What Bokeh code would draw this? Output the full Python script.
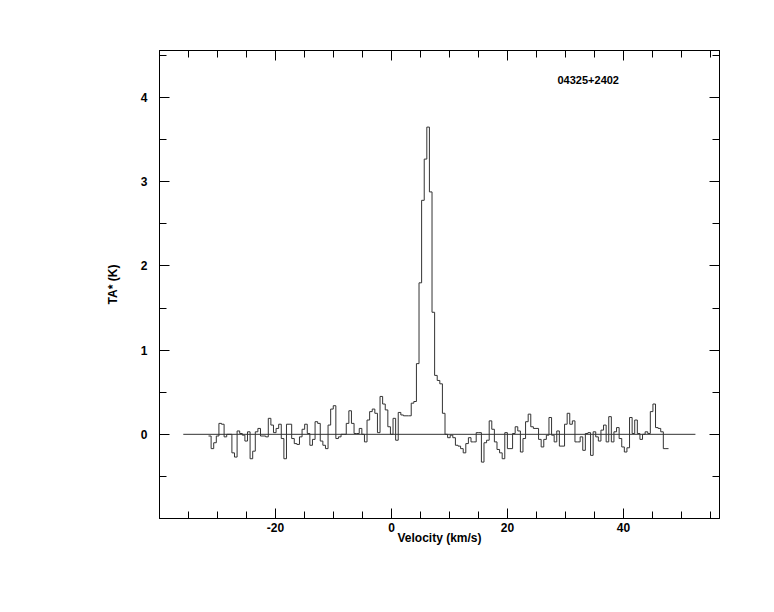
import numpy as np
from bokeh.plotting import figure
from bokeh.models import FixedTicker, LinearAxis, Label, Range1d
from bokeh.embed import file_html
from bokeh.resources import INLINE

# ---- data ----
v_start = -31.55          # velocity of first channel's left edge (km/s)
v_end = 47.76             # velocity of last channel's right edge (km/s)

ta_part1 = [-0.02, -0.17, -0.10, -0.02, 0.13, 0.12, -0.03, 0.0, 0.0, -0.22,
            -0.27, 0.04, 0.01, -0.01, -0.08, 0.03, -0.29, -0.20, 0.03, 0.07,
            -0.02, -0.02, -0.03, 0.19, 0.11, 0.02, 0.07, 0.12, -0.05, -0.29,
            0.12, 0.12, -0.05, -0.11]
ta_part2 = [-0.12, -0.03, 0.06, 0.12, 0.01, -0.13, -0.06, 0.15, 0.13, -0.08,
            -0.13, -0.17, 0.11, 0.30, 0.34, -0.05, -0.03, 0.0, 0.0, 0.13,
            0.28, 0.13, 0.01, 0.01, 0.07, 0.0, -0.09, 0.17, 0.27, 0.30,
            0.25, 0.02, 0.45, 0.36, 0.29, 0.09, 0.0, 0.19, -0.07, 0.26,
            0.23, 0.22, 0.22, 0.22]
ta_peak = [0.37, 0.39, 0.84, 1.80, 2.78, 3.27, 3.65, 2.88, 1.45, 0.70,
           0.64, 0.60, 0.25]
ta_part3 = [0.0, -0.04, -0.01, -0.04, -0.13, -0.14, -0.17, -0.22, -0.11, -0.04,
            -0.09, -0.09, 0.02, 0.02, -0.33, -0.10, -0.07, 0.16, 0.06, -0.09,
            -0.18, -0.22, -0.29, 0.02, -0.17, -0.17, 0.01, 0.09, 0.04, -0.21,
            -0.05, 0.15, 0.24, 0.09, 0.07, 0.07, -0.06, -0.15, -0.06, -0.01,
            0.20, -0.01, -0.09, 0.04, -0.14, -0.14, 0.12, 0.25, 0.12, 0.16,
            -0.09, -0.09, -0.03, -0.19, 0.01, 0.02, -0.25, 0.03, -0.03, -0.08,
            0.05, 0.11, -0.09, 0.21, -0.09, 0.03, 0.08, -0.05, -0.15, -0.21,
            -0.16, 0.20, 0.01, 0.17, 0.01, -0.06, 0.0, 0.03, 0.01, 0.27,
            0.36, 0.08, 0.07, 0.03, -0.17, -0.17]

baseline_v = [-35.9, 52.4]
baseline_t = [0.0, 0.0]

x_major = [-20, 0, 20, 40]
x_major_labels = ["-20", "0", "20", "40"]
x_minor = [-40, -35, -30, -25, -15, -10, -5, 5, 10, 15, 25, 30, 35, 45, 50, 55]
y_major = [0, 1, 2, 3, 4]
y_minor = [-0.5, 0.5, 1.5, 2.5, 3.5, 4.5]

source_name = "04325+2402"
x_title = "Velocity (km/s)"
y_title = "TA* (K)"

# ---- build step outline ----
ta = np.array(ta_part1 + ta_part2 + ta_peak + ta_part3)
n = len(ta)
edges = np.linspace(v_start, v_end, n + 1)
xs = np.repeat(edges, 2)[1:-1]
ys = np.repeat(ta, 2)

FONT = "Liberation Sans"

p = figure(width=766, height=600, output_backend="svg", toolbar_location=None,
           x_range=Range1d(-40.0, 56.55), y_range=Range1d(-1.0, 4.56),
           min_border_left=159, min_border_right=47, min_border_top=50,
           min_border_bottom=82, x_axis_type=None, y_axis_type=None)
p.background_fill_color = "white"
p.border_fill_color = "white"
p.outline_line_color = "black"
p.outline_line_width = 1

xt = FixedTicker(ticks=x_major, minor_ticks=x_minor)
yt = FixedTicker(ticks=y_major, minor_ticks=y_minor)

def style(ax, show_labels):
    ax.axis_line_color = "black"
    ax.major_tick_line_color = "black"
    ax.minor_tick_line_color = "black"
    ax.major_tick_in = 10
    ax.major_tick_out = 0
    ax.minor_tick_in = 7
    ax.minor_tick_out = 0
    ax.major_label_text_font = FONT
    ax.major_label_text_font_style = "bold"
    ax.major_label_text_font_size = "12px"
    ax.major_label_text_color = "black" if show_labels else None
    ax.major_label_standoff = 4 if show_labels else 0

bottom = LinearAxis(ticker=xt)
style(bottom, True)
bottom.major_label_overrides = dict(zip(x_major, x_major_labels))
bottom.axis_label = x_title
bottom.axis_label_text_font = FONT
bottom.axis_label_text_font_style = "bold"
bottom.axis_label_text_font_size = "12px"
bottom.axis_label_text_color = "black"
bottom.axis_label_standoff = -4
p.add_layout(bottom, "below")
top = LinearAxis(ticker=xt)
style(top, False)
p.add_layout(top, "above")
left = LinearAxis(ticker=yt)
style(left, True)
left.major_label_standoff = 12
left.axis_label = y_title
left.axis_label_text_font = FONT
left.axis_label_text_font_style = "bold"
left.axis_label_text_font_size = "12px"
left.axis_label_text_color = "black"
left.axis_label_standoff = 18
p.add_layout(left, "left")
right = LinearAxis(ticker=yt)
style(right, False)
p.add_layout(right, "right")

p.line(baseline_v, baseline_t, line_color="#333333", line_width=1)
p.line(xs, ys, line_color="#333333", line_width=1)

p.add_layout(Label(x=28.62, y=4.204, text=source_name, text_font=FONT,
                   text_font_style="bold", text_font_size="11px",
                   text_color="black", text_baseline="alphabetic"))

open("out.html", "w").write(file_html(p, INLINE))
